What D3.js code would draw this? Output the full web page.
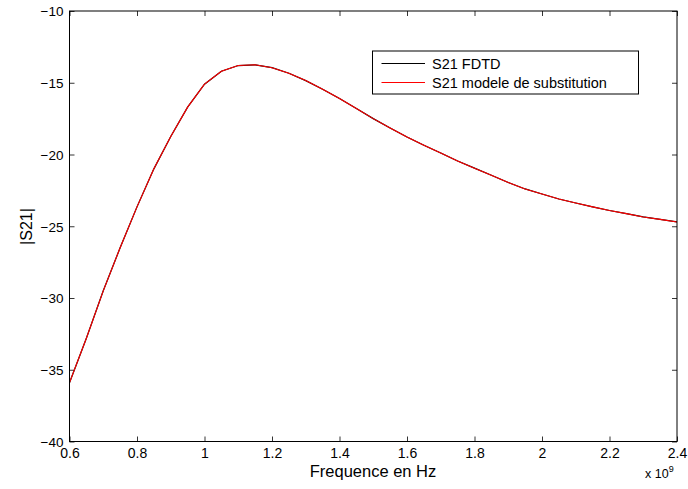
<!DOCTYPE html>
<html><head><meta charset="utf-8">
<script src="https://cdn.jsdelivr.net/npm/d3@7"></script>
<style>body{margin:0;background:#fff}svg{display:block}text{font-family:"Liberation Sans",Arial,sans-serif;fill:#000}</style>
</head><body><svg id="c" width="688" height="489"></svg>
<script>
const freqGHz = [0.6,0.65,0.7,0.75,0.8,0.85,0.9,0.95,1.0,1.05,1.1,1.15,1.2,1.25,1.3,1.35,1.4,1.45,1.5,1.55,1.6,1.65,1.7,1.75,1.8,1.85,1.9,1.95,2.0,2.05,2.1,2.15,2.2,2.25,2.3,2.35,2.4];
const s21FDTD = [-35.9,-32.8,-29.5,-26.5,-23.65,-21.0,-18.75,-16.7,-15.1,-14.2,-13.8,-13.75,-13.95,-14.34,-14.85,-15.45,-16.1,-16.8,-17.5,-18.15,-18.78,-19.35,-19.9,-20.45,-20.95,-21.45,-21.95,-22.4,-22.75,-23.1,-23.38,-23.65,-23.9,-24.12,-24.35,-24.52,-24.7];
const s21Model = [-35.9,-32.8,-29.5,-26.5,-23.65,-21.0,-18.75,-16.7,-15.1,-14.2,-13.8,-13.75,-13.95,-14.34,-14.85,-15.45,-16.1,-16.8,-17.5,-18.15,-18.78,-19.35,-19.9,-20.45,-20.95,-21.45,-21.95,-22.4,-22.75,-23.1,-23.38,-23.65,-23.9,-24.12,-24.35,-24.52,-24.7];
const xTicks = [0.6,0.8,1,1.2,1.4,1.6,1.8,2,2.2,2.4];
const yTicks = [-40,-35,-30,-25,-20,-15,-10];
const seriesNames = ["S21 FDTD","S21 modele de substitution"];
const seriesColors = ["#000000","#ff0000"];

const svg = d3.select("#c");
const L=69.5, R=677, T=11, B=441.5;
const x = d3.scaleLinear().domain([0.6,2.4]).range([L,R]);
const y = d3.scaleLinear().domain([-40,-10]).range([B,T]);
const fmt = v => (v<0?"\u2212":"") + Math.abs(v);
const fmtX = v => String(v);

const gb = svg.append("g").attr("transform",`translate(0,${B})`)
  .call(d3.axisBottom(x).tickValues(xTicks).tickFormat(fmtX).tickSizeInner(-5).tickSizeOuter(0).tickPadding(6.5));
const gt = svg.append("g").attr("transform",`translate(0,${T})`)
  .call(d3.axisTop(x).tickValues(xTicks).tickFormat("").tickSizeInner(-5).tickSizeOuter(0));
const gl = svg.append("g").attr("transform",`translate(${L},0)`)
  .call(d3.axisLeft(y).tickValues(yTicks).tickFormat(fmt).tickSizeInner(-5).tickSizeOuter(0).tickPadding(6));
const gr = svg.append("g").attr("transform",`translate(${R},0)`)
  .call(d3.axisRight(y).tickValues(yTicks).tickFormat("").tickSizeInner(-5).tickSizeOuter(0));
[gb,gt,gl,gr].forEach(g=>{
  g.select(".domain").remove();
  g.selectAll("line").attr("stroke","#000").attr("stroke-width",0.8);
  g.selectAll("text").attr("font-family","Liberation Sans, Arial, sans-serif").attr("fill","#000");
});
gb.selectAll("text").attr("font-size",14);
gl.selectAll("text").attr("font-size",13.5).attr("dy","0.36em");

const line = d3.line().x((d,i)=>x(freqGHz[i])).y(d=>y(d));
svg.append("path").datum(s21FDTD).attr("d",line).attr("fill","none").attr("stroke",seriesColors[0]).attr("stroke-width",1.2);
svg.append("path").datum(s21Model).attr("d",line).attr("fill","none").attr("stroke",seriesColors[1]).attr("stroke-width",1.1);

svg.append("rect").attr("x",L).attr("y",T).attr("width",R-L).attr("height",B-T)
  .attr("fill","none").attr("stroke","#000").attr("stroke-width",1);

const lg = svg.append("g");
lg.append("rect").attr("x",372.5).attr("y",51).attr("width",266).attr("height",43)
  .attr("fill","#fff").attr("stroke","#000").attr("stroke-width",1);
seriesNames.forEach((n,i)=>{
  const yy = 63.5 + i*19;
  lg.append("line").attr("x1",381.5).attr("x2",425).attr("y1",yy).attr("y2",yy)
    .attr("stroke",seriesColors[i]).attr("stroke-width",1);
  lg.append("text").attr("x",432).attr("y",yy).attr("dy","0.36em").attr("font-size",14.5).text(n);
});

svg.append("text").attr("x",373).attr("y",477).attr("text-anchor","middle").attr("font-size",16.5).text("Frequence en Hz");
svg.append("text").attr("transform","translate(32,226.5) rotate(-90)").attr("text-anchor","middle").attr("font-size",16).text("|S21|");
const ex = svg.append("text").attr("x",645).attr("y",477.5).attr("font-size",12.5);
ex.append("tspan").text("x 10");
ex.append("tspan").attr("font-size",9).attr("dy",-6).text("9");
</script></body></html>
